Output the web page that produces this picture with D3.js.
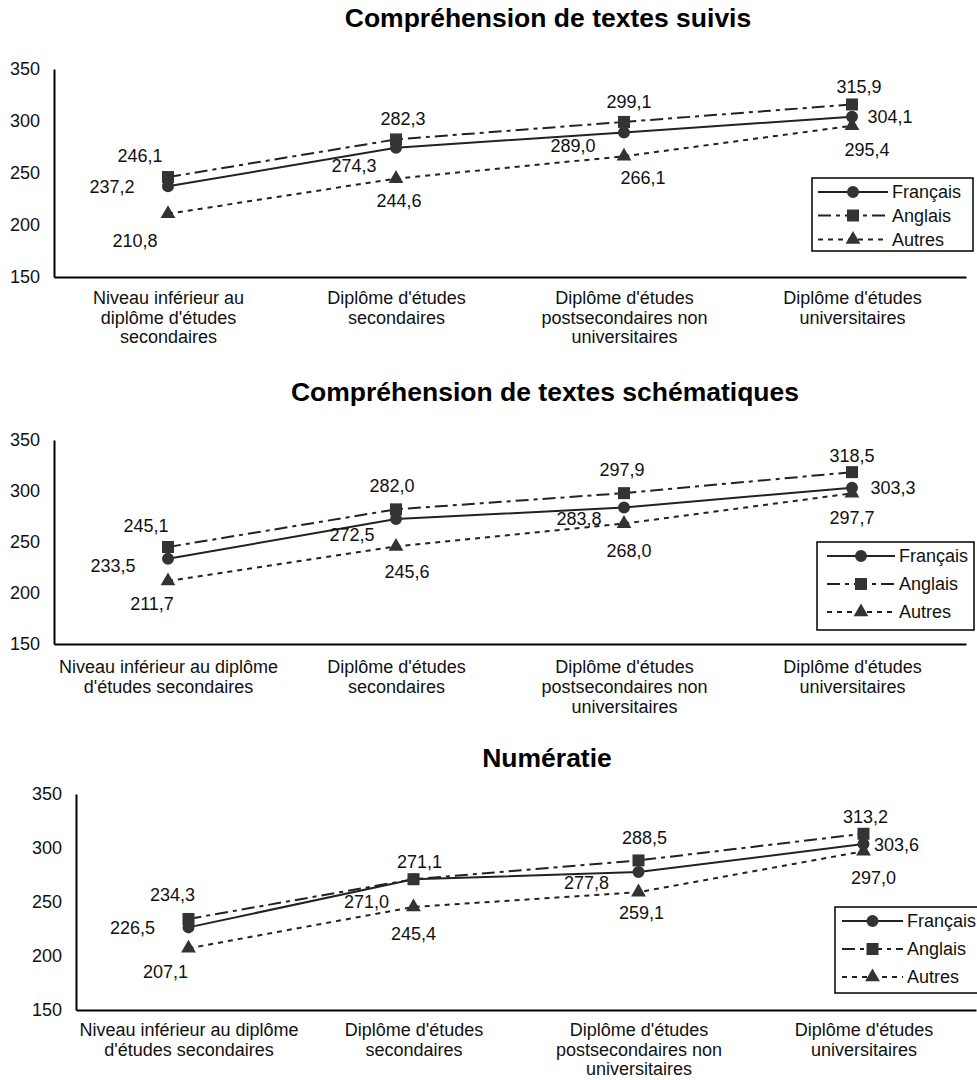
<!DOCTYPE html>
<html>
<head>
<meta charset="utf-8">
<script src="https://cdn.jsdelivr.net/npm/d3@7"></script>
<style>
  body { margin: 0; background: #fff; }
  svg { display: block; font-family: "Liberation Sans", Arial, sans-serif; }
</style>
</head>
<body>
<svg id="drawing_region"></svg>
<script>
// categories (wrapped the way each panel shows them)
const categoriesA = [
    ["Niveau inférieur au", "diplôme d'études", "secondaires"],
    ["Diplôme d'études", "secondaires"],
    ["Diplôme d'études", "postsecondaires non", "universitaires"],
    ["Diplôme d'études", "universitaires"]
];
const categoriesB = [
    ["Niveau inférieur au diplôme", "d'études secondaires"],
    ["Diplôme d'études", "secondaires"],
    ["Diplôme d'études", "postsecondaires non", "universitaires"],
    ["Diplôme d'études", "universitaires"]
];
const seriesNames = ["Français", "Anglais", "Autres"];
const yTicks = [150, 200, 250, 300, 350];

// Compréhension de textes suivis
const suivisFrancais = [237.2, 274.3, 289.0, 304.1];
const suivisAnglais  = [246.1, 282.3, 299.1, 315.9];
const suivisAutres   = [210.8, 244.6, 266.1, 295.4];

// Compréhension de textes schématiques
const schemaFrancais = [233.5, 272.5, 283.8, 303.3];
const schemaAnglais  = [245.1, 282.0, 297.9, 318.5];
const schemaAutres   = [211.7, 245.6, 268.0, 297.7];

// Numératie
const numFrancais = [226.5, 271.0, 277.8, 303.6];
const numAnglais  = [234.3, 271.1, 288.5, 313.2];
const numAutres   = [207.1, 245.4, 259.1, 297.0];

const svg = d3.select('#drawing_region')
    .attr('width', 977)
    .attr('height', 1080);

const styles = [
    { dash: null,        symbol: d3.symbolCircle,   size: 113 },
    { dash: '13,5,4,5',  symbol: d3.symbolSquare,   size: 144 },
    { dash: '5,5',       symbol: d3.symbolTriangle, size: 95 }
];

class LinePanel {

    constructor( config, categories, series ) {
        this.config = config;
        this.categories = categories;
        this.series = series;
        this.init();
    }

    init() {
        let self = this;
        const c = self.config;

        self.g = svg.append('g');

        self.g.append('text')
            .attr('x', c.titleX)
            .attr('y', c.titleY)
            .attr('text-anchor', 'middle')
            .attr('font-size', '26.5px')
            .attr('font-weight', 'bold')
            .attr('fill', '#000')
            .text(c.title);

        self.xscale = d3.scalePoint()
            .domain(d3.range(self.categories.length))
            .range([c.left, c.right])
            .padding(0.5);

        self.yscale = d3.scaleLinear()
            .domain([150, 350])
            .range([c.bottom, c.top]);
    }

    render() {
        let self = this;
        const c = self.config;
        const fmt = v => d3.format('.1f')(v).replace('.', ',');

        // y axis
        const yaxis = d3.axisLeft(self.yscale)
            .tickValues(yTicks)
            .tickSize(0)
            .tickSizeOuter(0)
            .tickPadding(14);
        const yg = self.g.append('g')
            .attr('transform', `translate(${c.left},0)`)
            .call(yaxis);
        yg.select('.domain').attr('stroke', '#000').attr('stroke-width', 2);
        yg.selectAll('text')
            .attr('font-size', '18px')
            .attr('font-family', '"Liberation Sans", Arial, sans-serif')
            .attr('fill', '#111');

        // x axis
        const xaxis = d3.axisBottom(self.xscale)
            .tickSize(0)
            .tickSizeOuter(0)
            .tickFormat('');
        const xg = self.g.append('g')
            .attr('transform', `translate(0,${c.bottom})`)
            .call(xaxis);
        xg.select('.domain').attr('stroke', '#000').attr('stroke-width', 2);
        xg.selectAll('.tick text').remove();
        xg.selectAll('.tick')
            .append('text')
            .attr('text-anchor', 'middle')
            .attr('font-size', '18px')
            .attr('fill', '#111')
            .selectAll('tspan')
            .data((d, i) => self.categories[i])
            .join('tspan')
            .attr('x', 0)
            .attr('y', (d, j) => c.catOffset + j * c.lineHeight)
            .text(d => d);

        // lines
        const line = d3.line()
            .x((d, i) => self.xscale(i))
            .y(d => self.yscale(d));

        const order = [1, 2, 0];
        order.forEach(k => {
            self.g.append('path')
                .datum(self.series[k])
                .attr('d', line)
                .attr('fill', 'none')
                .attr('stroke', '#222')
                .attr('stroke-width', 2)
                .attr('stroke-dasharray', styles[k].dash);
        });

        order.forEach(k => {
            self.g.selectAll(null)
                .data(self.series[k])
                .join('path')
                .attr('transform', (d, i) => `translate(${self.xscale(i)},${self.yscale(d)})`)
                .attr('d', d3.symbol(styles[k].symbol, styles[k].size))
                .attr('fill', '#333');
        });

        // value labels
        self.series.forEach((vals, k) => {
            self.g.selectAll(null)
                .data(vals)
                .join('text')
                .attr('x', (d, i) => self.xscale(i) + c.labelPos[k][i][0])
                .attr('y', (d, i) => self.yscale(d) + c.labelPos[k][i][1])
                .attr('dy', '0.36em')
                .attr('text-anchor', 'middle')
                .attr('font-size', '18px')
                .attr('fill', '#111')
                .text(d => fmt(d));
        });

        // legend
        const L = c.legend;
        const lg = self.g.append('g');
        lg.append('rect')
            .attr('x', L.x).attr('y', L.y)
            .attr('width', L.w).attr('height', L.h)
            .attr('fill', '#fff')
            .attr('stroke', '#000')
            .attr('stroke-width', 1.5);
        seriesNames.forEach((name, k) => {
            const yy = L.rows[k];
            lg.append('line')
                .attr('x1', L.x1).attr('x2', L.x2)
                .attr('y1', yy).attr('y2', yy)
                .attr('stroke', '#222')
                .attr('stroke-width', 2)
                .attr('stroke-dasharray', styles[k].dash);
            lg.append('path')
                .attr('transform', `translate(${(L.x1 + L.x2) / 2},${yy})`)
                .attr('d', d3.symbol(styles[k].symbol, styles[k].size))
                .attr('fill', '#333');
            lg.append('text')
                .attr('x', L.x2 + 4)
                .attr('y', yy)
                .attr('dy', '0.36em')
                .attr('font-size', '18px')
                .attr('fill', '#111')
                .text(name);
        });
    }
}

const panel1 = new LinePanel({
    title: 'Compréhension de textes suivis', titleX: 548, titleY: 27,
    left: 54, right: 966, top: 69, bottom: 277,
    catOffset: 27, lineHeight: 19.5,
    legend: { x: 812, y: 178, w: 161, h: 73, x1: 818, x2: 888, rows: [192, 215.5, 239.5] },
    labelPos: [
        [[-56, 0], [-42, 18], [-51, 13], [38, 0]],
        [[-28, -22], [7, -21], [5, -20], [7, -18]],
        [[-33, 27], [3, 22], [19, 21], [15, 24]]
    ]
}, categoriesA, [suivisFrancais, suivisAnglais, suivisAutres]);
panel1.render();

const panel2 = new LinePanel({
    title: 'Compréhension de textes schématiques', titleX: 545, titleY: 401,
    left: 54, right: 966, top: 440, bottom: 644,
    catOffset: 29, lineHeight: 20,
    legend: { x: 817, y: 542, w: 157, h: 88, x1: 827, x2: 895, rows: [556, 584, 612] },
    labelPos: [
        [[-55, 7], [-44, 15], [-45, 11], [41, 0]],
        [[-22, -21], [-4, -24], [-2, -24], [0, -17]],
        [[-16, 22], [11, 25], [5, 27], [0, 24]]
    ]
}, categoriesB, [schemaFrancais, schemaAnglais, schemaAutres]);
panel2.render();

const panel3 = new LinePanel({
    title: 'Numératie', titleX: 547, titleY: 767,
    left: 76, right: 976, top: 794, bottom: 1010,
    catOffset: 26, lineHeight: 19.5,
    legend: { x: 835, y: 907, w: 160, h: 86, x1: 842, x2: 903, rows: [921, 949, 977] },
    labelPos: [
        [[-56, 0], [-47, 22], [-52, 11], [33, 0]],
        [[-16, -24], [6, -18], [6, -23], [2, -17]],
        [[-23, 23], [0, 27], [3, 20], [10, 26]]
    ]
}, categoriesB, [numFrancais, numAnglais, numAutres]);
panel3.render();
</script>
</body>
</html>
